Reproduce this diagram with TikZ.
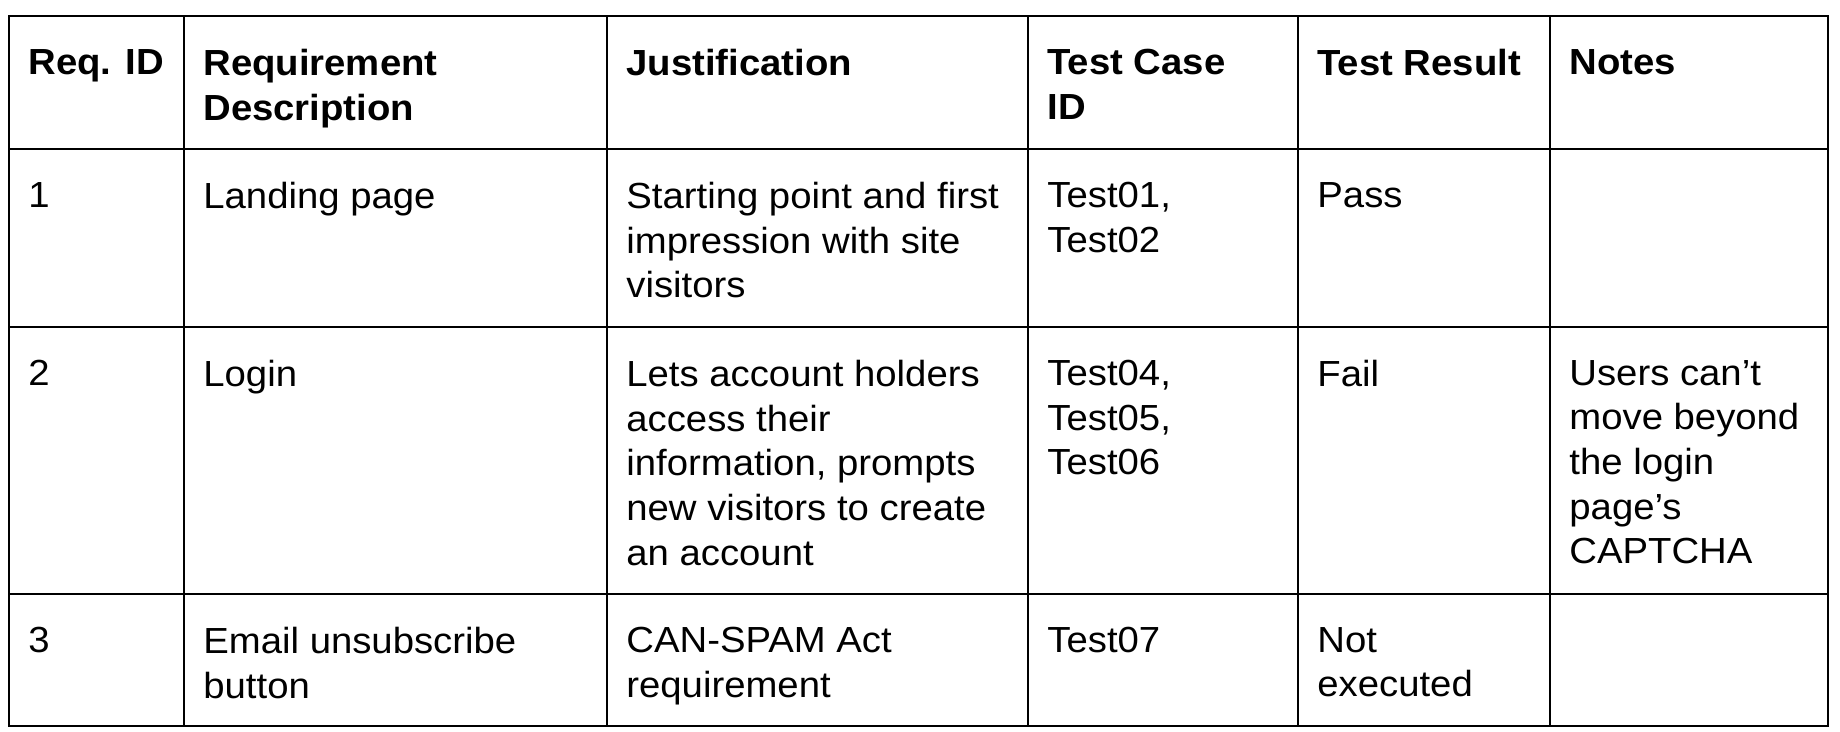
\documentclass[tikz,border=0pt]{standalone}
\usepackage{fontspec}
\setmainfont{Liberation Sans}[FakeStretch=1.055]
\usetikzlibrary{positioning}

\begin{document}
\begin{tikzpicture}[x=0.5pt, y=-0.5pt,
    cell/.style={anchor=north west, inner sep=0pt, align=left, font=\fontsize{18.15}{22.3}\selectfont},
    head/.style={cell, font=\fontsize{18.15}{22.3}\selectfont\bfseries},
    grid/.style={line width=1.3pt, line cap=rect}
]
\useasboundingbox (0,0) rectangle (1840,732);

% Table lines
\foreach \x in {9,184,607,1028,1298,1550,1828}
    \draw[grid] (\x,16) -- (\x,726);
\foreach \y in {16,149,327,594,726}
    \draw[grid] (9,\y) -- (1828,\y);

% Header row
\node[head] (HeadId) at (28,49) {Req. ID};
\node[head] (HeadDesc) at (203,49) {Requirement\\Description};
\node[head] (HeadJust) at (626,49) {Justification};
\node[head] (HeadCase) at (1047,49) {Test Case\\ID};
\node[head] (HeadResult) at (1317,49) {Test Result};
\node[head] (HeadNotes) at (1569,49) {Notes};

% Requirement 1
\node[cell] (Id1) at (28,182) {1};
\node[cell] (Desc1) at (203,182) {Landing page};
\node[cell] (Just1) at (626,182) {Starting point and first\\impression with site\\visitors};
\node[cell] (Case1) at (1047,182) {Test01,\\Test02};
\node[cell] (Result1) at (1317,182) {Pass};

% Requirement 2
\node[cell] (Id2) at (28,360) {2};
\node[cell] (Desc2) at (203,360) {Login};
\node[cell] (Just2) at (626,360) {Lets account holders\\access their\\information, prompts\\new visitors to create\\an account};
\node[cell] (Case2) at (1047,360) {Test04,\\Test05,\\Test06};
\node[cell] (Result2) at (1317,360) {Fail};
\node[cell] (Notes2) at (1569,360) {Users can’t\\move beyond\\the login\\page’s\\CAPTCHA};

% Requirement 3
\node[cell] (Id3) at (28,627) {3};
\node[cell] (Desc3) at (203,627) {Email unsubscribe\\button};
\node[cell] (Just3) at (626,627) {CAN-SPAM Act\\requirement};
\node[cell] (Case3) at (1047,627) {Test07};
\node[cell] (Result3) at (1317,627) {Not\\executed};

\end{tikzpicture}
\end{document}
